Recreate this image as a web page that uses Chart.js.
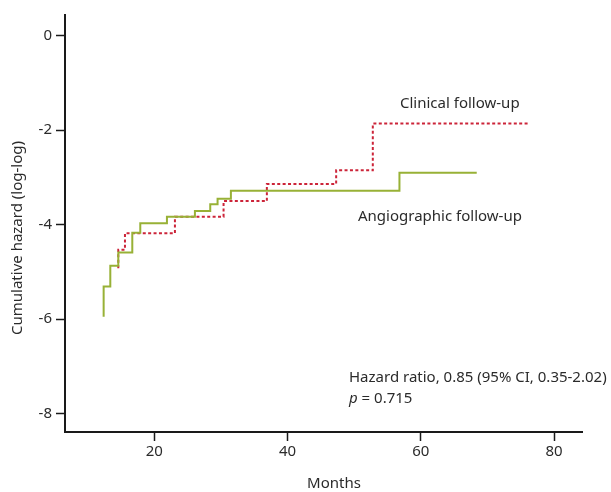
<!DOCTYPE html>
<html>
<head>
<meta charset="utf-8">
<script src="https://cdn.jsdelivr.net/npm/chart.js@4.4.1/dist/chart.umd.min.js"></script>
<style>
  html, body { margin: 0; padding: 0; background: #fff; }
  #wrap { width: 611px; height: 492px; position: relative; }
</style>
</head>
<body>
<div id="wrap"><canvas id="chart"></canvas></div>
<script>
// Step points (months, log-log cumulative hazard)
const angioMonths = [12.4, 12.4, 13.4, 14.6, 16.7, 17.9, 21.9, 26.1, 28.4, 29.5, 31.5, 56.8, 68.4];
const angioHazard = [-5.95, -5.31, -4.87, -4.59, -4.17, -3.97, -3.83, -3.71, -3.57, -3.45, -3.28, -2.90, -2.90];

const clinicalMonths = [14.6, 14.6, 15.6, 23.1, 30.4, 36.9, 47.3, 52.8, 76.3];
const clinicalHazard = [-4.92, -4.53, -4.18, -3.83, -3.50, -3.14, -2.85, -1.86, -1.86];

const xTicks = [20, 40, 60, 80];
const yTicks = [0, -2, -4, -6, -8];

const FONT = '"Noto Sans", sans-serif';
const TEXT = '#2b2b2b';

function toPoints(xs, ys) {
    return xs.map((x, i) => ({ x: x, y: ys[i] }));
}

// annotations and axis titles
const labelsPlugin = {
    id: 'labels',
    afterDraw(chart) {
        const ctx = chart.ctx;
        ctx.save();
        ctx.fillStyle = TEXT;
        ctx.textBaseline = 'middle';
        ctx.font = '15px ' + FONT;
        ctx.textAlign = 'left';
        ctx.fillText('Clinical follow-up', 400, 104);
        ctx.fillText('Angiographic follow-up', 358, 217);
        ctx.fillText('Hazard ratio, 0.85 (95% CI, 0.35-2.02)', 349, 378);
        ctx.font = 'italic 15px ' + FONT;
        ctx.fillText('p', 349, 399);
        const pw = ctx.measureText('p').width;
        ctx.font = '15px ' + FONT;
        ctx.fillText(' = 0.715', 349 + pw, 399);

        ctx.textAlign = 'center';
        ctx.fillText('Months', 334, 484);

        ctx.translate(18, 238);
        ctx.rotate(-Math.PI / 2);
        ctx.fillText('Cumulative hazard (log-log)', 0, 0);
        ctx.restore();
    }
};

new Chart(document.getElementById('chart'), {
    type: 'line',
    data: {
        datasets: [
            {
                label: 'Angiographic follow-up',
                data: toPoints(angioMonths, angioHazard),
                borderColor: '#98b136',
                borderWidth: 2,
                stepped: 'before',
                pointRadius: 0,
                fill: false
            },
            {
                label: 'Clinical follow-up',
                data: toPoints(clinicalMonths, clinicalHazard),
                borderColor: '#cc2439',
                borderWidth: 2,
                borderDash: [3, 2.4],
                stepped: 'before',
                pointRadius: 0,
                fill: false
            }
        ]
    },
    options: {
        responsive: true,
        maintainAspectRatio: false,
        animation: false,
        layout: { padding: { top: 15, right: 29, left: 0, bottom: 0 } },
        plugins: {
            legend: { display: false },
            tooltip: { enabled: false }
        },
        scales: {
            x: {
                type: 'linear',
                min: 6.6,
                max: 84.2,
                afterBuildTicks: (scale) => { scale.ticks = xTicks.map(v => ({ value: v })); },
                afterFit: (scale) => { scale.height = 60; },
                border: { color: '#1a1a1a', width: 2 },
                grid: { drawOnChartArea: false, tickLength: 9, tickWidth: 1.5, tickColor: '#1a1a1a' },
                ticks: { color: TEXT, font: { family: FONT, size: 15 }, padding: 2, maxRotation: 0 }
            },
            y: {
                type: 'linear',
                min: -8.39,
                max: 0.44,
                afterBuildTicks: (scale) => { scale.ticks = yTicks.map(v => ({ value: v })); },
                afterFit: (scale) => { scale.width = 65; },
                border: { color: '#1a1a1a', width: 2 },
                grid: { drawOnChartArea: false, tickLength: 9, tickWidth: 1.5, tickColor: '#1a1a1a' },
                ticks: { color: TEXT, font: { family: FONT, size: 15 }, padding: 4 }
            }
        }
    },
    plugins: [labelsPlugin]
});
</script>
</body>
</html>
